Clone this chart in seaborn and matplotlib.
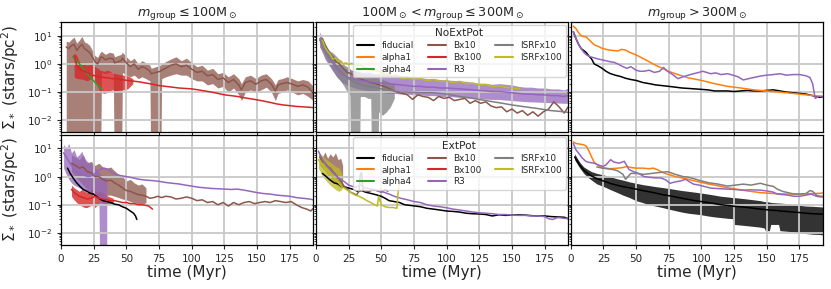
import numpy as np
import matplotlib
matplotlib.use("Agg")
import matplotlib.pyplot as plt
from matplotlib.lines import Line2D
import seaborn as sns

# ---------------- labels ----------------
model_names = ["fiducial", "alpha1", "alpha4", "Bx10", "Bx100", "R3", "ISRFx10", "ISRFx100"]
model_colors = ["black", "tab:orange", "tab:green", "tab:brown", "tab:red", "tab:purple", "tab:gray", "tab:olive"]
col_titles = [r"$m_{\rm group} \leq 100{\rm M}_\odot$",
              r"$100{\rm M}_\odot < m_{\rm group} \leq 300{\rm M}_\odot$",
              r"$m_{\rm group} > 300{\rm M}_\odot$"]
row_titles = ["NoExtPot", "ExtPot"]
x_ticks = [0, 25, 50, 75, 100, 125, 150, 175]
ZERO = 1e-5

# ================= NoExtPot, m <= 100 =================
n_lo_bx10_t = [4, 6, 8, 10, 12, 14, 16, 18, 20, 22, 24, 26, 28, 30,
               31, 34, 37, 40, 41, 46, 47, 50, 53, 56, 59, 62, 65, 68, 69, 76,
               77, 80, 84, 88, 92, 96, 100, 104, 108, 112,
               116, 120, 124, 128, 132, 136, 138, 141, 145, 149,
               153, 157, 161, 164, 166, 169, 173, 177, 181, 185, 189, 193]
n_lo_bx10_hi = [6.5, 6.0, 7.5, 9.0, 5.5, 7.0, 9.5, 6.0, 5.5, 4.5, 3.0, 2.0, 1.7, 2.6,
                2.8, 2.2, 2.6, 2.4, 1.8, 2.2, 2.6, 1.8, 1.3, 1.6, 1.0, 1.3, 1.1, 0.9, 0.7, 0.9,
                1.0, 1.2, 1.5, 1.8, 1.3, 1.6, 1.1, 0.8, 0.9, 0.6,
                0.7, 0.45, 0.5, 0.35, 0.45, 0.3, 0.2, 0.35, 0.4, 0.3,
                0.4, 0.45, 0.3, 0.18, 0.28, 0.3, 0.35, 0.3, 0.25, 0.28, 0.25, 0.16]
n_lo_bx10_med = [4.0, 3.5, 4.5, 5.0, 3.0, 4.0, 5.0, 3.5, 3.0, 2.5, 1.8, 1.2, 1.0, 1.6,
                 1.8, 1.4, 1.6, 1.5, 1.1, 1.3, 1.6, 1.1, 0.8, 1.0, 0.65, 0.8, 0.7, 0.55, 0.45, 0.55,
                 0.6, 0.7, 0.9, 1.0, 0.8, 0.9, 0.65, 0.5, 0.55, 0.38,
                 0.42, 0.28, 0.32, 0.22, 0.28, 0.18, 0.12, 0.22, 0.25, 0.19,
                 0.25, 0.28, 0.19, 0.11, 0.18, 0.2, 0.22, 0.19, 0.16, 0.18, 0.15, 0.09]
n_lo_bx10_lo = [ZERO] * 14 + [0.5, 0.45, 0.5, 0.5, ZERO, ZERO,
                0.5, 0.4, 0.35, 0.4, 0.3, 0.35, 0.3, 0.25, ZERO, ZERO,
                0.3, 0.35, 0.4, 0.45, 0.4, 0.4, 0.3, 0.25, 0.25, 0.18,
                0.2, 0.14, 0.16, 0.1, 0.14, 0.08, 0.05, 0.1, 0.12, 0.1,
                0.12, 0.15, 0.1, 0.05, 0.09, 0.1, 0.12, 0.1, 0.08, 0.09, 0.07, 0.05]

n_lo_bx100_t = [10, 12, 14, 16, 18, 20, 22, 24, 26, 28, 30, 33, 36, 39, 42, 45, 48, 51, 54, 57,
                60, 65, 70, 75, 80, 85, 90, 95, 100, 105, 110, 115, 120, 125, 130, 135, 140,
                145, 150, 155, 160, 165, 170, 175, 180, 185, 190, 193]
n_lo_bx100_med = [2.0, 0.9, 0.7, 0.6, 0.55, 0.5, 0.45, 0.4, 0.38, 0.35, 0.35, 0.33, 0.32, 0.3,
                  0.3, 0.28, 0.27, 0.26, 0.25, 0.24, 0.23, 0.21, 0.19, 0.17, 0.16, 0.15, 0.14,
                  0.135, 0.13, 0.12, 0.11, 0.1, 0.09, 0.08, 0.075, 0.07, 0.063, 0.058, 0.053,
                  0.048, 0.043, 0.038, 0.035, 0.033, 0.031, 0.03, 0.029, 0.028]
n_lo_bx100_bt = [10, 12, 14, 17, 20, 23, 26, 28, 30, 33, 36, 39, 42, 45, 48, 51, 55]
n_lo_bx100_hi = [2.5, 2.0, 1.2, 1.0, 0.9, 1.0, 0.8, 0.7, 0.6, 0.55, 0.6, 0.5, 0.45, 0.42, 0.4, 0.38, 0.3]
n_lo_bx100_lo = [0.35, 0.3, 0.3, 0.28, 0.25, 0.3, 0.25, 0.15, 0.1, 0.09, 0.1, 0.12, 0.11, 0.12, 0.12, 0.13, 0.2]

n_lo_a4_t = [9, 12, 15, 18, 21, 24, 27, 30, 32]
n_lo_a4_v = [1.8, 1.3, 0.9, 0.6, 0.4, 0.28, 0.2, 0.14, 0.12]

# ================= NoExtPot, 100 < m <= 300 =================
n_mid_r3_t = [3, 5, 7, 10, 13, 16, 20, 24, 28, 32, 36, 40, 45, 50, 55, 60, 65, 70, 75, 80,
              85, 90, 95, 100, 105, 110, 115, 120, 125, 130, 135, 140, 145, 150, 155, 160,
              165, 170, 175, 180, 185, 190, 193]
n_mid_r3_hi = [14, 8, 5, 3.2, 2.0, 1.3, 0.8, 0.65, 0.6, 0.55, 0.5, 0.52, 0.45, 0.47, 0.42, 0.4,
               0.38, 0.37, 0.33, 0.33, 0.3, 0.3, 0.28, 0.27, 0.26, 0.25, 0.24, 0.22, 0.21, 0.2,
               0.19, 0.2, 0.19, 0.18, 0.16, 0.15, 0.15, 0.14, 0.14, 0.13, 0.13, 0.12, 0.14]
n_mid_r3_lo = [4, 2.5, 1.5, 0.9, 0.55, 0.35, 0.22, 0.18, 0.15, 0.13, 0.12, 0.11, 0.1, 0.1, 0.09,
               0.09, 0.085, 0.085, 0.08, 0.08, 0.075, 0.075, 0.07, 0.07, 0.068, 0.065, 0.063,
               0.06, 0.058, 0.056, 0.055, 0.055, 0.052, 0.05, 0.048, 0.046, 0.045, 0.044,
               0.043, 0.042, 0.041, 0.04, 0.04]
n_mid_r3_med = [8, 4.5, 2.8, 1.7, 1.05, 0.7, 0.42, 0.34, 0.3, 0.27, 0.25, 0.24, 0.22, 0.21, 0.2,
                0.19, 0.18, 0.17, 0.16, 0.16, 0.15, 0.15, 0.14, 0.14, 0.135, 0.13, 0.125, 0.12,
                0.115, 0.11, 0.105, 0.105, 0.1, 0.095, 0.09, 0.085, 0.085, 0.08, 0.08, 0.075,
                0.075, 0.07, 0.075]

n_mid_isrf100_t = [5, 7, 9, 11, 13, 15, 17, 19, 21, 23, 25, 27, 29, 31, 34, 37, 40, 43, 46, 50,
                   54, 58, 62, 66, 70, 75, 80, 85, 90, 95, 100, 105, 110, 115, 120, 125, 130,
                   135, 140, 145, 150, 156]
n_mid_isrf100_v = [7, 4, 2.8, 2.2, 1.5, 1.6, 1.2, 1.3, 1.0, 1.1, 0.95, 1.05, 1.0, 0.9, 0.95,
                   0.75, 0.7, 0.6, 0.6, 0.5, 0.45, 0.38, 0.4, 0.3, 0.33, 0.28, 0.3, 0.26, 0.28,
                   0.24, 0.25, 0.22, 0.24, 0.2, 0.21, 0.18, 0.19, 0.16, 0.17, 0.15, 0.14, 0.13]

n_mid_isrf10_bt = [3, 5, 7, 10, 13, 16, 19, 22, 24, 26, 27, 33, 34, 37, 40, 42, 43, 47, 48, 51,
                   54, 57, 60]
n_mid_isrf10_hi = [10, 8, 5, 3, 2.5, 1.8, 1.3, 0.9, 0.8, 0.7, 0.6, 0.5, 0.45, 0.45, 0.4, 0.38,
                   0.35, 0.35, 0.3, 0.28, 0.25, 0.22, 0.2]
n_mid_isrf10_lo = [4, 3, 1.8, 1.0, 0.6, 0.35, 0.25, 0.15, 0.1, 0.08, ZERO, ZERO, 0.07, 0.07,
                   0.06, 0.06, ZERO, ZERO, 0.02, 0.015, 0.02, 0.03, 0.06]
n_mid_isrf10_t = [3, 5, 7, 10, 13, 16, 20, 25, 30, 35, 40, 45, 50, 55, 60, 65, 70, 75, 80, 90,
                  100, 110, 120, 130, 140, 150, 160, 170, 180, 190, 193]
n_mid_isrf10_v = [7, 5, 3, 1.8, 1.3, 0.8, 0.5, 0.3, 0.22, 0.18, 0.16, 0.15, 0.13, 0.12, 0.11,
                  0.1, 0.1, 0.097, 0.095, 0.095, 0.085, 0.07, 0.06, 0.05, 0.042, 0.035, 0.03,
                  0.026, 0.022, 0.02, 0.019]

n_mid_bx10_t = [5, 7, 9, 11, 13, 15, 18, 21, 24, 27, 30, 34, 38, 42, 46, 50, 54, 58, 62, 66,
                70, 74, 78, 82, 86, 90, 94, 98, 102, 106, 110, 114, 118, 122, 126, 130, 134,
                138, 142, 146, 150, 154, 158, 162, 166, 170, 174, 178, 182, 186, 190, 193]
n_mid_bx10_v = [8, 5, 3, 2.2, 1.8, 1.3, 1.0, 0.7, 0.5, 0.45, 0.35, 0.3, 0.25, 0.22, 0.2, 0.17,
                0.15, 0.12, 0.1, 0.09, 0.08, 0.055, 0.08, 0.07, 0.065, 0.05, 0.07, 0.06, 0.065,
                0.05, 0.055, 0.06, 0.04, 0.05, 0.04, 0.045, 0.032, 0.028, 0.03, 0.02, 0.025,
                0.018, 0.022, 0.015, 0.02, 0.014, 0.02, 0.025, 0.045, 0.03, 0.018, 0.03]

# ================= NoExtPot, m > 300 =================
n_hi_a1_t = [2, 4, 6, 8, 10, 12, 15, 18, 21, 24, 27, 30, 33, 36, 39, 42, 45, 50, 55, 60, 65,
             70, 75, 80, 85, 90, 95, 100, 110, 120, 130, 140, 150, 160, 170, 180, 190, 193]
n_hi_a1_v = [22, 18, 13, 10, 9.5, 9, 6.5, 4.8, 4.2, 3.6, 3.3, 3.1, 3.0, 2.9, 3.3, 3.1, 2.6, 2.1,
             1.6, 1.2, 0.9, 0.7, 0.55, 0.45, 0.38, 0.32, 0.29, 0.26, 0.2, 0.16, 0.14, 0.12,
             0.11, 0.1, 0.09, 0.08, 0.072, 0.07]
n_hi_fid_t = [2, 4, 6, 8, 10, 12, 14, 16, 18, 21, 24, 27, 30, 34, 38, 42, 46, 50, 55, 60, 65,
              70, 75, 80, 85, 90, 95, 100, 105, 110, 115, 120, 125, 130, 135, 140, 145, 150,
              155, 160, 165, 170, 175, 180, 185, 190, 193]
n_hi_fid_v = [14, 8, 5, 3.5, 3.0, 2.5, 1.9, 1.5, 1.0, 0.85, 0.7, 0.55, 0.46, 0.4, 0.36, 0.31,
              0.28, 0.26, 0.22, 0.2, 0.18, 0.17, 0.16, 0.15, 0.14, 0.135, 0.13, 0.125, 0.12,
              0.11, 0.11, 0.11, 0.105, 0.11, 0.115, 0.11, 0.11, 0.115, 0.12, 0.11, 0.1, 0.095,
              0.09, 0.085, 0.075, 0.065, 0.068]
n_hi_r3_t = [2, 4, 6, 8, 10, 12, 15, 18, 21, 24, 27, 30, 33, 36, 40, 43, 46, 50, 53, 56, 60,
             64, 68, 71, 74, 78, 82, 86, 90, 94, 98, 101, 104, 107, 111, 115, 120, 124, 128,
             132, 136, 140, 145, 150, 155, 160, 165, 170, 175, 180, 183, 185, 187, 190, 193]
n_hi_r3_v = [14, 8, 5, 3.5, 2.6, 2.1, 1.8, 1.65, 1.5, 1.4, 1.3, 1.2, 1.15, 1.0, 0.8, 0.7, 0.8,
             0.6, 0.55, 0.55, 0.6, 0.5, 0.55, 0.75, 0.55, 0.42, 0.3, 0.35, 0.4, 0.45, 0.5,
             0.55, 0.5, 0.45, 0.48, 0.42, 0.45, 0.4, 0.35, 0.27, 0.3, 0.33, 0.37, 0.4, 0.42,
             0.45, 0.4, 0.42, 0.42, 0.38, 0.33, 0.2, 0.06, 0.07, 0.07]

# ================= ExtPot, m <= 100 =================
e_lo_r3_bt = [2, 4, 6, 8, 10, 12, 14, 16, 18, 20, 22, 24, 26, 28, 29, 30, 35]
e_lo_r3_hi = [14, 10, 15, 7, 9, 5, 6, 8, 4, 3.5, 3, 2.5, 2, 1.8, 1.5, 1.2, 1.0]
e_lo_r3_lo = [2, 1.2, 0.8, 0.6, 0.5, 0.45, 0.4, 0.35, 0.3, 0.3, 0.25, 0.25, 0.22, 0.2, 0.2, ZERO, ZERO]
e_lo_r3_t = [2, 4, 6, 8, 10, 12, 15, 18, 21, 24, 27, 30, 33, 36, 40, 45, 50, 55, 60, 65, 70,
             75, 80, 85, 90, 95, 100, 105, 110, 115, 120, 125, 130, 135, 140, 145, 150, 155,
             160, 165, 170, 175, 180, 185, 190, 193]
e_lo_r3_v = [7, 5, 3.5, 2.5, 1.8, 1.5, 1.2, 1.1, 1.0, 1.1, 1.4, 1.8, 2.0, 1.8, 1.3, 1.1, 1.0,
             0.9, 0.8, 0.75, 0.72, 0.68, 0.62, 0.58, 0.55, 0.5, 0.46, 0.42, 0.4, 0.38, 0.37,
             0.36, 0.35, 0.36, 0.33, 0.3, 0.27, 0.25, 0.24, 0.22, 0.21, 0.2, 0.18, 0.17,
             0.16, 0.15]

e_lo_bx10_bt = [8, 11, 14, 17, 20, 23, 26, 29, 32, 35, 38, 41, 44, 47, 50, 53, 56, 59, 62, 65]
e_lo_bx10_hi = [6, 5, 4, 6, 3, 3.5, 2.5, 3, 2.2, 2, 2.2, 1.6, 1.2, 1.0, 0.7, 0.8, 0.6, 0.5, 0.55, 0.4]
e_lo_bx10_lo = [1.5, 1, 0.7, 0.5, 0.35, 0.25, 0.2, 0.2, 0.2, 0.22, 0.22, 0.2, 0.18, 0.16, 0.15,
                0.13, 0.12, 0.11, 0.1, 0.12]
e_lo_bx10_t = [8, 11, 14, 17, 20, 23, 26, 29, 32, 35, 38, 41, 44, 47, 50, 53, 56, 59, 62, 65,
               68, 71, 74, 77, 80, 84, 88, 92, 96, 100, 104, 108, 112, 116, 120, 124, 128,
               132, 136, 140, 144, 148, 152, 156, 160, 164, 168, 172, 176, 180, 184, 188, 191, 193]
e_lo_bx10_v = [3, 2.5, 2, 2.2, 1.5, 1.4, 1.0, 1.0, 0.8, 0.7, 0.75, 0.6, 0.5, 0.4, 0.32, 0.3,
               0.26, 0.23, 0.22, 0.2, 0.17, 0.18, 0.2, 0.18, 0.2, 0.19, 0.16, 0.17, 0.19, 0.17,
               0.14, 0.15, 0.12, 0.13, 0.1, 0.12, 0.09, 0.12, 0.1, 0.12, 0.13, 0.11, 0.12,
               0.13, 0.12, 0.14, 0.13, 0.12, 0.13, 0.1, 0.08, 0.07, 0.06, 0.075]

e_lo_bx100_bt = [8, 10, 12, 14, 16, 18, 20, 22, 24, 26, 28, 30, 33, 36, 40]
e_lo_bx100_hi = [0.5, 0.4, 0.35, 0.3, 0.35, 0.3, 0.28, 0.3, 0.4, 0.32, 0.28, 0.3, 0.25, 0.2, 0.17]
e_lo_bx100_lo = [0.2, 0.15, 0.12, 0.1, 0.09, 0.08, 0.08, 0.09, 0.1, 0.08, 0.1, 0.12, 0.11, 0.1, 0.12]
e_lo_bx100_t = [8, 11, 14, 17, 20, 23, 26, 29, 32, 35, 38, 41, 44, 47, 50, 53, 56, 59, 62, 65, 67, 70]
e_lo_bx100_v = [0.35, 0.25, 0.2, 0.18, 0.16, 0.17, 0.2, 0.17, 0.16, 0.15, 0.14, 0.14, 0.13,
                0.12, 0.12, 0.11, 0.11, 0.1, 0.1, 0.095, 0.09, 0.07]

e_lo_fid_t = [5, 7, 10, 12, 14.5, 17, 20, 22, 24.7, 27, 29.8, 32, 35, 38, 41, 44, 47, 50, 53, 55.5, 57, 58]
e_lo_fid_v = [2.0, 1.3, 0.8, 0.6, 0.45, 0.35, 0.3, 0.26, 0.24, 0.2, 0.16, 0.14, 0.13, 0.12,
              0.105, 0.1, 0.085, 0.075, 0.06, 0.05, 0.04, 0.03]

# ================= ExtPot, 100 < m <= 300 =================
e_mid_fid_t = [5, 8, 11, 14, 17, 20, 23, 26, 29, 32, 35, 38, 41, 44, 47, 50, 53, 56, 60, 64,
               68, 72, 76, 80, 85, 90, 95, 100, 105, 110, 115, 120, 125, 130, 135, 140, 145,
               150, 155, 160, 165, 170, 175, 180, 185, 190, 193]
e_mid_fid_v = [1.3, 1.0, 0.75, 0.6, 0.55, 0.45, 0.42, 0.38, 0.35, 0.3, 0.32, 0.28, 0.26, 0.24,
               0.22, 0.2, 0.17, 0.14, 0.13, 0.12, 0.1, 0.095, 0.09, 0.085, 0.075, 0.07, 0.065,
               0.06, 0.058, 0.055, 0.05, 0.048, 0.047, 0.045, 0.04, 0.044, 0.042, 0.043,
               0.044, 0.043, 0.041, 0.04, 0.04, 0.038, 0.037, 0.036, 0.032]
e_mid_r3_t = [2, 4, 6, 8, 10, 13, 16, 19, 22, 25, 28, 31, 34, 37, 40, 44, 48, 52, 56, 60, 65,
              70, 75, 80, 85, 90, 95, 100, 105, 110, 115, 120, 125, 130, 135, 140, 145, 150,
              155, 160, 165, 170, 175, 178, 181, 185, 190, 193]
e_mid_r3_v = [8, 5, 3.5, 2.5, 2.0, 1.4, 1.0, 0.8, 0.65, 0.5, 0.45, 0.42, 0.5, 0.4, 0.38, 0.35,
              0.3, 0.28, 0.24, 0.2, 0.17, 0.15, 0.13, 0.12, 0.1, 0.09, 0.085, 0.078, 0.07,
              0.065, 0.06, 0.055, 0.052, 0.05, 0.048, 0.045, 0.045, 0.043, 0.042, 0.042,
              0.04, 0.04, 0.038, 0.032, 0.03, 0.035, 0.033, 0.032]
e_mid_bx10_bt = [3, 5, 7, 9, 11, 13, 15, 17, 19, 20.5]
e_mid_bx10_hi = [7, 5, 7.5, 4.5, 6.5, 5, 7, 4, 4.5, 2.5]
e_mid_bx10_lo = [2.5, 2, 1.6, 1.2, 0.9, 0.7, 0.55, 0.45, 0.4, 0.4]
e_mid_bx10_t = [3, 5, 7, 9, 11, 13, 15, 17, 19, 21, 23, 25, 27, 29, 31, 33, 34, 35, 36, 38, 41,
                44, 47, 50, 53, 55]
e_mid_bx10_v = [5, 3.5, 3.0, 2.3, 2.0, 1.5, 1.2, 0.9, 0.7, 0.5, 0.4, 0.32, 0.27, 0.25, 0.22,
                0.3, 1.2, 1.4, 0.35, 0.3, 0.3, 0.35, 0.32, 0.28, 0.35, 0.3]
e_mid_isrf100_bt = [2, 4, 6, 8, 10, 12, 14, 16, 18, 20]
e_mid_isrf100_hi = [7, 6, 5, 4, 3.5, 3, 2.5, 2.2, 2.0, 1.2]
e_mid_isrf100_lo = [2, 1.3, 0.9, 0.7, 0.55, 0.45, 0.38, 0.32, 0.3, 0.35]
e_mid_isrf100_t = [2, 4, 6, 8, 10, 12, 14, 16, 18, 20, 22, 24, 26, 28, 30, 33, 36, 39, 42, 45,
                   47, 48, 50, 53, 56, 59, 62, 63, 64]
e_mid_isrf100_v = [4, 3, 2.3, 1.8, 1.4, 1.1, 0.9, 0.7, 0.55, 0.45, 0.38, 0.33, 0.3, 0.25, 0.22,
                   0.2, 0.17, 0.14, 0.12, 0.1, 0.09, 0.2, 0.1, 0.085, 0.08, 0.08, 0.075, 0.3, 0.65]

# ================= ExtPot, m > 300 =================
e_hi_fid_t = [3, 5, 7, 10, 13, 16, 20, 25, 30, 35, 40, 45, 50, 55, 60, 65, 70, 75, 80, 85,
              90, 95, 100, 105, 110, 115, 120, 124, 125, 130, 135, 140, 145, 148, 149, 152,
              153, 159, 160, 165, 170, 175, 180, 185, 190, 193]
e_hi_fid_hi = [6.5, 4.5, 3.2, 2.2, 1.8, 1.5, 1.3, 1.15, 1.0, 0.85, 0.75, 0.65, 0.58, 0.52, 0.48,
               0.44, 0.41, 0.38, 0.35, 0.32, 0.3, 0.28, 0.26, 0.24, 0.22, 0.2, 0.19, 0.18,
               0.18, 0.17, 0.16, 0.15, 0.14, 0.13, 0.13, 0.125, 0.12, 0.115, 0.115, 0.11,
               0.1, 0.095, 0.09, 0.088, 0.085, 0.083]
e_hi_fid_lo = [4, 2.8, 2.0, 1.3, 0.95, 0.75, 0.55, 0.45, 0.35, 0.28, 0.22, 0.18, 0.14, 0.12,
               0.1, 0.09, 0.08, 0.07, 0.062, 0.055, 0.05, 0.047, 0.044, 0.04, 0.037, 0.035,
               0.033, 0.032, 0.02, 0.019, 0.018, 0.017, 0.016, 0.015, 0.012, 0.012, 0.02,
               0.02, 0.012, 0.0115, 0.011, 0.01, 0.0095, 0.009, 0.0088, 0.0085]
e_hi_fid_med = [5, 3.5, 2.5, 1.7, 1.3, 1.05, 0.85, 0.7, 0.58, 0.5, 0.44, 0.4, 0.36, 0.32, 0.29,
                0.26, 0.23, 0.21, 0.19, 0.17, 0.155, 0.14, 0.13, 0.12, 0.11, 0.1, 0.095, 0.09,
                0.088, 0.085, 0.08, 0.075, 0.07, 0.068, 0.067, 0.065, 0.064, 0.062, 0.06,
                0.058, 0.055, 0.053, 0.05, 0.048, 0.047, 0.046]
e_hi_a1_t = [2, 4, 6, 8, 10, 12, 14, 16, 18, 21, 24, 27, 30, 33, 36, 40, 43, 46, 50, 55, 60,
             63, 66, 69, 72, 76, 80, 85, 90, 95, 100, 105, 110, 115, 120, 125, 130, 135, 140,
             145, 150, 155, 160, 165, 170, 175, 180, 185, 190, 193]
e_hi_a1_v = [17, 15, 14.5, 14, 13.5, 12, 8, 5, 3.2, 2.5, 2.1, 2.0, 1.9, 1.95, 2.0, 2.1, 2.3,
             2.1, 2.0, 2.0, 1.9, 2.0, 1.8, 1.5, 1.3, 1.15, 1.0, 0.9, 0.8, 0.7, 0.62, 0.55, 0.5,
             0.45, 0.4, 0.37, 0.34, 0.31, 0.29, 0.27, 0.26, 0.25, 0.245, 0.24, 0.24, 0.24,
             0.245, 0.25, 0.255, 0.26]
e_hi_r3_t = [2, 4, 7, 9, 11.5, 14, 18, 21, 24.5, 27, 30.5, 33, 37, 41, 44.5, 48, 52, 56, 60,
             65, 69, 73, 76, 80, 84, 88, 91, 94, 98, 102, 107, 111, 115, 120, 125, 132, 138,
             145, 150, 155, 158, 162, 166, 171, 175, 180, 184, 188, 191, 193]
e_hi_r3_v = [15, 9, 6, 4.5, 3.5, 3.2, 3.0, 2.6, 2.3, 2.6, 4.0, 3.3, 3.0, 3.5, 1.8, 1.5, 1.3,
             1.0, 0.95, 0.9, 0.9, 0.75, 0.58, 0.65, 0.7, 0.8, 0.65, 0.54, 0.5, 0.45, 0.39,
             0.38, 0.37, 0.36, 0.35, 0.33, 0.34, 0.33, 0.31, 0.28, 0.24, 0.23, 0.22, 0.2, 0.2,
             0.22, 0.24, 0.2, 0.19, 0.19]
e_hi_isrf10_t = [20, 24, 28, 32, 36, 40, 42, 46, 50, 56, 62, 68, 74, 80, 86, 90, 94, 100, 106,
                 112, 120, 126, 132, 138, 145, 150, 155, 158, 162, 166, 171, 176, 180, 183,
                 185, 188, 191, 193]
e_hi_isrf10_v = [2.2, 2.0, 1.9, 1.8, 1.6, 1.2, 0.8, 1.3, 1.3, 1.2, 1.3, 1.4, 1.5, 1.2, 1.0,
                 0.95, 0.85, 0.7, 0.6, 0.55, 0.46, 0.5, 0.54, 0.5, 0.58, 0.5, 0.45, 0.36, 0.3,
                 0.27, 0.24, 0.24, 0.25, 0.32, 0.3, 0.22, 0.2, 0.2]

# ---------------- drawing ----------------
sns.set_style("ticks")
plt.rcParams["font.family"] = ["DejaVu Sans"]
plt.rcParams["mathtext.fontset"] = "dejavusans"

col = dict(zip(model_names, model_colors))
fig, axes = plt.subplots(2, 3, figsize=(8.31, 2.89), dpi=100, sharex=True, sharey=True)
fig.subplots_adjust(left=0.0734, right=0.9904, top=0.924, bottom=0.152, wspace=0.01, hspace=0.02)

LW = 1.1


def band(ax, t, lo, hi, name, alpha=0.72):
    # filled ranges sit under the grid (zorder 1), as in matplotlib defaults
    ax.fill_between(t, lo, hi, color=col[name], alpha=alpha, lw=0, zorder=1)


def line(ax, t, v, name, lw=LW):
    sns.lineplot(x=t, y=v, ax=ax, color=col[name], lw=lw, legend=False, zorder=2,
                 estimator=None, sort=False)


# row 0 -----------------------------------------------------------
ax = axes[0, 0]
line(ax, n_lo_a4_t, n_lo_a4_v, "alpha4")
band(ax, n_lo_bx10_t, n_lo_bx10_lo, n_lo_bx10_hi, "Bx10", alpha=0.75)
line(ax, n_lo_bx10_t, n_lo_bx10_med, "Bx10")
band(ax, n_lo_bx100_bt, n_lo_bx100_lo, n_lo_bx100_hi, "Bx100", alpha=0.8)
line(ax, n_lo_bx100_t, n_lo_bx100_med, "Bx100")

ax = axes[0, 1]
line(ax, n_mid_bx10_t, n_mid_bx10_v, "Bx10")
band(ax, n_mid_r3_t, n_mid_r3_lo, n_mid_r3_hi, "R3", alpha=0.75)
line(ax, n_mid_r3_t, n_mid_r3_med, "R3")
band(ax, n_mid_isrf10_bt, n_mid_isrf10_lo, n_mid_isrf10_hi, "ISRFx10", alpha=0.75)
line(ax, n_mid_isrf10_t, n_mid_isrf10_v, "ISRFx10")
line(ax, n_mid_isrf100_t, n_mid_isrf100_v, "ISRFx100")

ax = axes[0, 2]
line(ax, n_hi_fid_t, n_hi_fid_v, "fiducial")
line(ax, n_hi_a1_t, n_hi_a1_v, "alpha1")
line(ax, n_hi_r3_t, n_hi_r3_v, "R3")

# row 1 -----------------------------------------------------------
ax = axes[1, 0]
line(ax, e_lo_fid_t, e_lo_fid_v, "fiducial")
band(ax, e_lo_bx10_bt, e_lo_bx10_lo, e_lo_bx10_hi, "Bx10", alpha=0.75)
line(ax, e_lo_bx10_t, e_lo_bx10_v, "Bx10")
band(ax, e_lo_bx100_bt, e_lo_bx100_lo, e_lo_bx100_hi, "Bx100", alpha=0.8)
line(ax, e_lo_bx100_t, e_lo_bx100_v, "Bx100")
band(ax, e_lo_r3_bt, e_lo_r3_lo, e_lo_r3_hi, "R3", alpha=0.75)
line(ax, e_lo_r3_t, e_lo_r3_v, "R3")

ax = axes[1, 1]
line(ax, e_mid_fid_t, e_mid_fid_v, "fiducial")
band(ax, e_mid_bx10_bt, e_mid_bx10_lo, e_mid_bx10_hi, "Bx10", alpha=0.75)
line(ax, e_mid_bx10_t, e_mid_bx10_v, "Bx10")
line(ax, e_mid_r3_t, e_mid_r3_v, "R3")
band(ax, e_mid_isrf100_bt, e_mid_isrf100_lo, e_mid_isrf100_hi, "ISRFx100", alpha=0.75)
line(ax, e_mid_isrf100_t, e_mid_isrf100_v, "ISRFx100")

ax = axes[1, 2]
band(ax, e_hi_fid_t, e_hi_fid_lo, e_hi_fid_hi, "fiducial", alpha=0.8)
line(ax, e_hi_fid_t, e_hi_fid_med, "fiducial")
line(ax, e_hi_a1_t, e_hi_a1_v, "alpha1")
line(ax, e_hi_r3_t, e_hi_r3_v, "R3")
line(ax, e_hi_isrf10_t, e_hi_isrf10_v, "ISRFx10")

# axes styling ----------------------------------------------------
for i in range(2):
    for j in range(3):
        ax = axes[i, j]
        ax.set_yscale("log")
        ax.set_xlim(0, 193)
        ax.set_ylim(3.7e-3, 31)
        ax.set_xticks(x_ticks)
        ax.set_axisbelow("line")
        ax.grid(True, which="major", color="#c8c8c8", lw=1.3)
        ax.tick_params(labelsize=7.5, length=3)
        ax.tick_params(which="minor", length=1.8)
        for s in ax.spines.values():
            s.set_color("black")
            s.set_linewidth(0.9)
            s.set_zorder(10)
        ax.set_xlabel("")
        ax.set_ylabel("")
    axes[i, 0].set_ylabel(r"$\Sigma_*$ (stars/pc$^2$)", fontsize=11)
for j in range(3):
    axes[0, j].set_title(col_titles[j], fontsize=9.2, pad=4)
    axes[1, j].set_xlabel("time (Myr)", fontsize=11, labelpad=1)

handles = [Line2D([0], [0], color=c, lw=1.5) for c in model_colors]
for i in range(2):
    leg = axes[i, 1].legend(handles, model_names, ncol=3, title=row_titles[i], fontsize=6.4,
                            title_fontsize=7.6, loc="upper right", frameon=True,
                            borderaxespad=0.3, handlelength=2.0, columnspacing=1.6,
                            labelspacing=0.32, borderpad=0.4)
    leg.set_zorder(20)

fig.savefig("out.png", dpi=100)
